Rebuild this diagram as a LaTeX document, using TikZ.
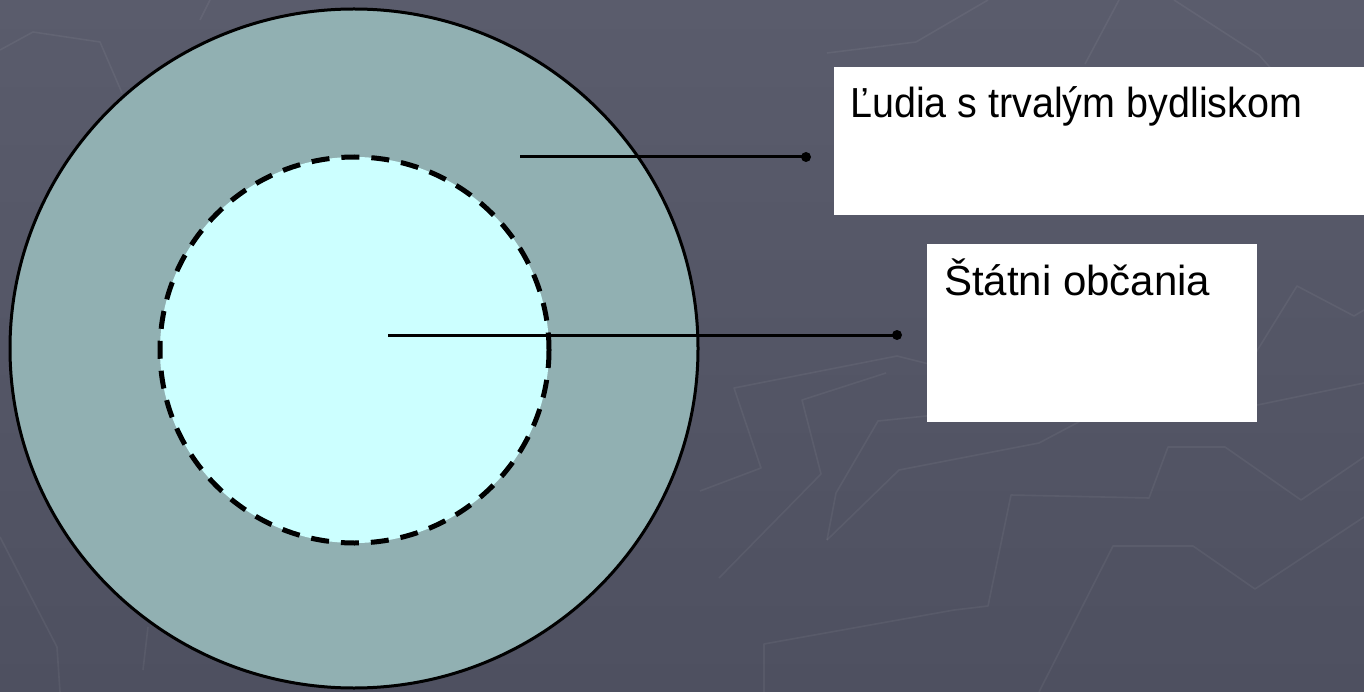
\documentclass[tikz,border=0pt]{standalone}
\usepackage{fontspec}
\setmainfont{Liberation Sans}
\definecolor{bgtop}{HTML}{5A5C6C}
\definecolor{bgbot}{HTML}{4E5060}
\definecolor{ring}{HTML}{91B0B2}
\definecolor{core}{HTML}{CCFFFF}
\begin{document}
\begin{tikzpicture}[x=1pt,y=-1pt,
  labelbox/.style={fill=white,draw=none},
  labeltext/.style={anchor=base west,inner sep=0pt,text=black},
  leader/.style={draw=black,line width=3pt},
  enddot/.style={circle,fill=black,inner sep=0pt,minimum size=10pt},
  deco/.style={draw=white,draw opacity=0.055,line width=1.6pt,line join=round}]
\useasboundingbox (0,0) rectangle (1364,692);
\shade[top color=bgtop,bottom color=bgbot] (0,0) rectangle (1364,692);
% faint background ornament
\draw[deco] (764,692) -- (764,644) -- (954,610) -- (988,606) -- (1011,495) -- (1149,498) -- (1168,447) -- (1225,447) -- (1301,500) -- (1364,457);
\draw[deco] (1039,692) -- (1113,546) -- (1193,546) -- (1255,589) -- (1364,517);
\draw[deco] (700,491) -- (761,468) -- (734,388) -- (897,356) -- (929,364);
\draw[deco] (719,578) -- (821,474) -- (802,400) -- (886,373);
\draw[deco] (827,540) -- (836,493) -- (878,421) -- (1013,407);
\draw[deco] (827,540) -- (899,470) -- (1039,443) -- (1107,407);
\draw[deco] (1238,409) -- (1364,383);
\draw[deco] (1255,354) -- (1297,286) -- (1354,316) -- (1364,310);
\draw[deco] (827,53) -- (916,42) -- (988,0);
\draw[deco] (1085,64) -- (1119,0);
\draw[deco] (1174,0) -- (1259,55) -- (1290,90);
\draw[deco] (0,50) -- (33,32) -- (100,42) -- (122,93);
\draw[deco] (200,20) -- (210,0);
\draw[deco] (0,537) -- (57,647) -- (60,692);
\draw[deco] (143,670) -- (148,627);
% outer and inner circles
\path[fill=ring,draw=black,line width=3pt] (354,348.5) ellipse [x radius=344,y radius=339.5];
\path[fill=core,draw=black,line width=5pt,dash pattern=on 18pt off 12pt] (354.5,350) ellipse [x radius=194.5,y radius=193];
\coordinate (c1) at (520,157);
\coordinate (c2) at (388,335);
% boxes
\path[labelbox] (834,67) rectangle (1364,215);
\path[labelbox] (927,244) rectangle (1257,422);
\node[labeltext,font=\fontsize{42}{50}\selectfont,xscale=0.94] (t1) at (850,118) {Ľudia s trvalým bydliskom};
\node[labeltext,font=\fontsize{42}{50}\selectfont] (t2) at (944,295) {Štátni občania};
\node[enddot] (d1) at (806,157) {};
\node[enddot] (d2) at (897,335) {};
\draw[leader] (c1) -- (d1.center);
\draw[leader] (c2) -- (d2.center);
\end{tikzpicture}
\end{document}
